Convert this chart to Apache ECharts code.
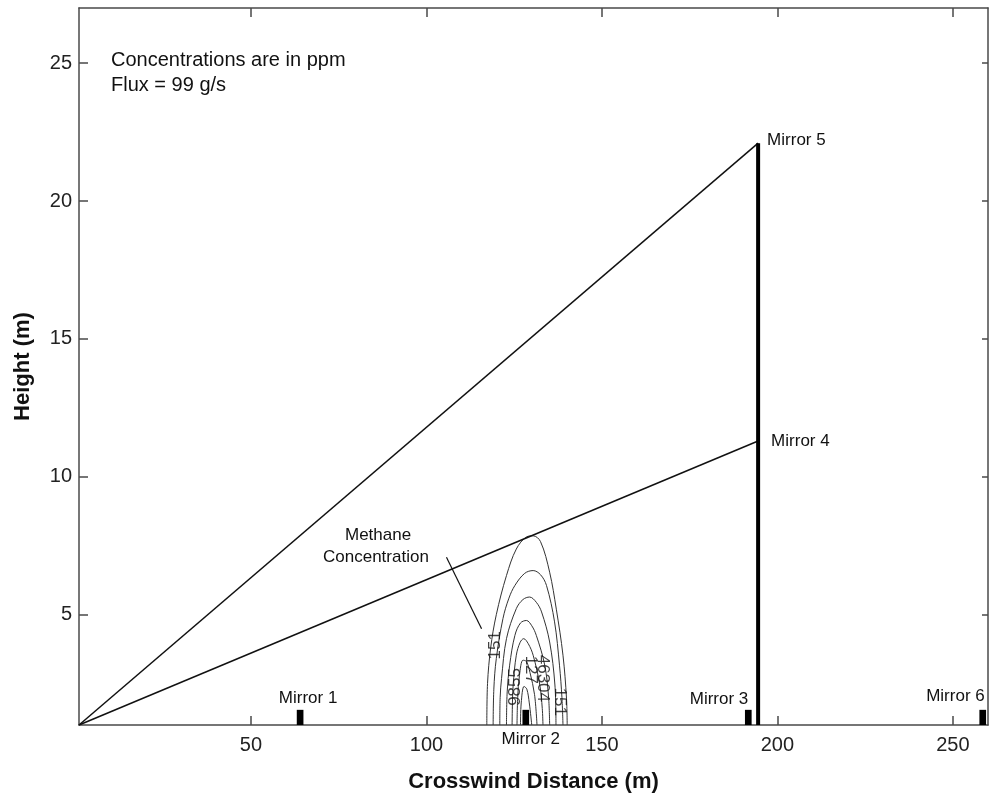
<!DOCTYPE html>
<html>
<head>
<meta charset="utf-8">
<style>
  html, body { margin: 0; padding: 0; background: #fff; }
  #chart { width: 989px; height: 798px; }
</style>
<script src="https://cdn.jsdelivr.net/npm/echarts@6/dist/echarts.min.js"></script>
</head>
<body>
<div id="chart"></div>
<script>
// Axis ticks
const xTicks = [50, 100, 150, 200, 250];
const yTicks = [5, 10, 15, 20, 25];

// Instrument layout (crosswind distance and height in m)
const source = [1, 1];
const towerX = 194.5;
const mirror5Height = 22.1;
const mirror4Height = 11.3;
const groundMirrorNames = ['Mirror 1', 'Mirror 2', 'Mirror 3', 'Mirror 6'];
const groundMirrorX = [64, 128.3, 191.7, 258.5];
const groundMirrorTop = 1.55;

// Methane concentration contours, outermost first: [distance, height]
const contour1 = [[117.2,1],[117.4,2.5],[118.3,3.8],[119.9,5.0],[122.8,6.42],[125.6,7.38],[128.5,7.82],[130.4,7.86],[132.5,7.65],[135.1,6.54],[137,5.2],[138.9,3.53],[139.9,1.97],[140.1,1]];
const contour2 = [[119,1],[119.2,2.3],[119.9,3.41],[121.8,4.86],[123.5,5.6],[125.2,6.06],[128,6.5],[130.4,6.6],[132.5,6.45],[134.2,6.06],[136.5,4.74],[137.9,3.17],[138.6,2.0],[138.9,1]];
const contour3 = [[120.9,1],[121,2],[121.4,2.69],[122.8,4.13],[125.6,5.22],[127.5,5.55],[129.4,5.64],[131.3,5.45],[132.8,5.1],[135.1,4.01],[136.6,2.45],[136.9,1]];
const contour4 = [[122.8,1],[123,2.2],[123.7,3.17],[125.2,4.25],[126.8,4.7],[128.5,4.79],[130,4.6],[131.3,4.25],[133.7,3.17],[134.8,2.0],[135.1,1]];
const contour5 = [[124.4,1],[124.5,1.8],[124.7,2.45],[125.6,3.53],[126.7,4.0],[127.7,4.13],[129,3.95],[130.4,3.53],[132.3,2.45],[133,1.6],[133.2,1]];
const contour6 = [[125.8,1],[126,2],[126.5,2.8],[127.5,3.35],[128.5,3.3],[129.5,2.9],[130.8,2.1],[131.5,1]];
const contour7 = [[126.8,1],[127,1.8],[127.8,2.4],[128.6,2.3],[129.3,1.8],[130,1]];
const contours = [contour1, contour2, contour3, contour4, contour5, contour6, contour7];

// Contour level labels: text, distance, height, reading direction
const contourLabelText = ['151', '9855', '127', '46304', '151'];
const contourLabelX = [119.7, 125.2, 129.6, 133.0, 138.0];
const contourLabelY = [3.89, 2.38, 3.0, 2.69, 1.84];
const contourLabelRot = [90, 90, -90, -90, -90];

// Leader from the annotation to the plume
const leaderLine = [[105.7, 7.08], [115.7, 4.49]];

const FONT = "'Liberation Sans', Arial, Helvetica, sans-serif";
const AXIS_COLOR = '#4a4a4a';

// Label placement for the mirrors (pixel offsets from the mark's anchor point)
const mirrorLabelStyle = {
  'Mirror 1': { dx: 8, dy: -12, align: 'center' },
  'Mirror 2': { dx: 5, dy: 29, align: 'center' },
  'Mirror 3': { dx: 0, dy: -11, align: 'right' },
  'Mirror 6': { dx: 2, dy: -14, align: 'right' },
  'Mirror 5': { dx: 9, dy: -3, align: 'left' },
  'Mirror 4': { dx: 13, dy: 0, align: 'left' }
};

const chart = echarts.init(document.getElementById('chart'), null, { renderer: 'canvas' });

const axisCommon = {
  type: 'value',
  axisLine: { show: true, onZero: false, lineStyle: { color: AXIS_COLOR, width: 1.5 } },
  splitLine: { show: false }
};

function textEl(x, y, name) {
  const st = mirrorLabelStyle[name];
  return { type: 'text', x: x + st.dx, y: y + st.dy,
    style: { text: name, fill: '#111', font: '17px ' + FONT, align: st.align, verticalAlign: 'middle' } };
}

const series = [];

contours.forEach((c) => {
  series.push({
    type: 'line', data: c, smooth: 0.35, symbol: 'none', silent: true,
    lineStyle: { color: '#333', width: 1 }, z: 3
  });
});

series.push({
  type: 'line', data: [source, [towerX, mirror5Height]], symbol: 'none', silent: true,
  lineStyle: { color: '#111', width: 1.5 }, z: 4
});
series.push({
  type: 'line', data: [source, [towerX, mirror4Height]], symbol: 'none', silent: true,
  lineStyle: { color: '#111', width: 1.5 }, z: 4
});
series.push({
  type: 'line', data: leaderLine, symbol: 'none', silent: true,
  lineStyle: { color: '#111', width: 1.2 }, z: 4
});
// Tower carrying mirrors 4 and 5
series.push({
  type: 'line', data: [[towerX, 1], [towerX, mirror5Height]], symbol: 'none', silent: true,
  lineStyle: { color: '#000', width: 4 }, z: 5
});
// Tower mirror labels
series.push({
  type: 'custom', silent: true, z: 6,
  data: [[towerX, mirror5Height, 5], [towerX, mirror4Height, 4]],
  renderItem: function (params, api) {
    const c = api.coord([api.value(0), api.value(1)]);
    return textEl(c[0], c[1], 'Mirror ' + api.value(2));
  }
});
// Ground-level mirrors
series.push({
  type: 'custom', silent: true, z: 6,
  data: groundMirrorX.map((x, i) => [x, groundMirrorTop, i]),
  renderItem: function (params, api) {
    const x = api.value(0);
    const top = api.value(1);
    const name = groundMirrorNames[api.value(2)];
    const p0 = api.coord([x - 0.95, top]);
    const p1 = api.coord([x + 0.95, 1]);
    const c = api.coord([x, top]);
    return {
      type: 'group',
      children: [
        { type: 'rect', shape: { x: p0[0], y: p0[1], width: p1[0] - p0[0], height: p1[1] - p0[1] },
          style: { fill: '#000' } },
        textEl(c[0], c[1], name)
      ]
    };
  }
});
// Contour level labels
series.push({
  type: 'scatter', symbolSize: 0, silent: true, z: 6,
  data: contourLabelText.map((t, i) => ({
    value: [contourLabelX[i], contourLabelY[i]],
    label: { formatter: t, rotate: contourLabelRot[i] }
  })),
  label: { show: true, position: 'inside', color: '#111', fontSize: 17, fontFamily: FONT }
});

chart.setOption({
  animation: false,
  backgroundColor: '#fff',
  textStyle: { fontFamily: FONT },
  grid: { left: 79, right: 1, top: 8, bottom: 71 },
  xAxis: [
    Object.assign({}, axisCommon, {
      position: 'bottom', min: 1, max: 260,
      name: 'Crosswind Distance (m)', nameLocation: 'middle', nameGap: 46,
      nameTextStyle: { fontSize: 22, fontWeight: 'bold', color: '#111', fontFamily: FONT },
      axisTick: { show: true, inside: true, length: 9, customValues: xTicks, lineStyle: { color: AXIS_COLOR, width: 1.5 } },
      axisLabel: { show: true, customValues: xTicks, margin: 10, fontSize: 20, color: '#222', fontFamily: FONT }
    }),
    Object.assign({}, axisCommon, {
      position: 'top', min: 1, max: 260,
      axisTick: { show: true, inside: true, length: 9, customValues: xTicks, lineStyle: { color: AXIS_COLOR, width: 1.5 } },
      axisLabel: { show: false }
    })
  ],
  yAxis: [
    Object.assign({}, axisCommon, {
      position: 'left', min: 1, max: 27,
      name: 'Height (m)', nameLocation: 'middle', nameGap: 45,
      nameTextStyle: { fontSize: 22, fontWeight: 'bold', color: '#111', fontFamily: FONT },
      axisTick: { show: true, inside: true, length: 9, customValues: yTicks, lineStyle: { color: AXIS_COLOR, width: 1.5 } },
      axisLabel: { show: true, customValues: yTicks, margin: 7, fontSize: 20, color: '#222', fontFamily: FONT }
    }),
    Object.assign({}, axisCommon, {
      position: 'right', min: 1, max: 27,
      axisTick: { show: true, inside: true, length: 6, customValues: yTicks, lineStyle: { color: AXIS_COLOR, width: 1.5 } },
      axisLabel: { show: false }
    })
  ],
  graphic: [
    { type: 'text', left: 111, top: 50, style: { text: 'Concentrations are in ppm', fill: '#111', font: '20px ' + FONT } },
    { type: 'text', left: 111, top: 75, style: { text: 'Flux = 99 g/s', fill: '#111', font: '20px ' + FONT } },
    { type: 'text', left: 345, top: 527, style: { text: 'Methane', fill: '#111', font: '17px ' + FONT } },
    { type: 'text', left: 323, top: 549, style: { text: 'Concentration', fill: '#111', font: '17px ' + FONT } }
  ],
  series: series
});
</script>
</body>
</html>
